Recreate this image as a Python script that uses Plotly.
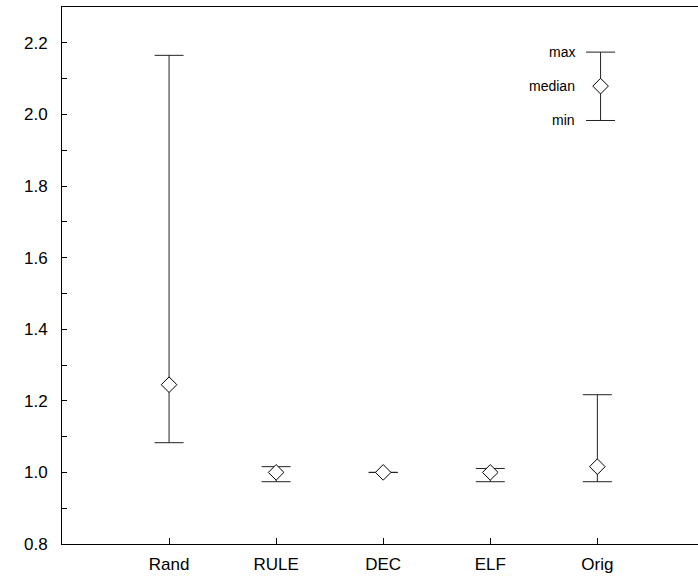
import plotly.graph_objects as go

# Summary statistics per method
methods = ["Rand", "RULE", "DEC", "ELF", "Orig"]
positions = [1, 2, 3, 4, 5]
maximum = [2.165, 1.016, 1.0, 1.011, 1.217]
median = [1.245, 1.0, 1.0, 1.0, 1.016]
minimum = [1.083, 0.974, 1.0, 0.974, 0.974]

# Key explaining the glyph
key_x = 5.03
key_values = [2.174, 2.079, 1.983]  # max, median, min
key_labels = ["max", "median", "min"]

y_ticks = [0.8, 1.0, 1.2, 1.4, 1.6, 1.8, 2.0, 2.2]

font_family = "Liberation Sans, Arial, sans-serif"

marker_style = dict(symbol="diamond", size=12, color="white",
                    line=dict(width=1, color="black"))


def whiskers(hi, mid, lo):
    return dict(
        type="data",
        symmetric=False,
        array=[h - m for h, m in zip(hi, mid)],
        arrayminus=[m - l for m, l in zip(mid, lo)],
        color="#222222",
        thickness=1,
        width=14.5,
    )


fig = go.Figure()

fig.add_trace(go.Scatter(
    x=positions,
    y=median,
    mode="markers",
    marker=marker_style,
    error_y=whiskers(maximum, median, minimum),
    showlegend=False,
    hoverinfo="skip",
))

fig.add_trace(go.Scatter(
    x=[key_x],
    y=[key_values[1]],
    mode="markers",
    marker=marker_style,
    error_y=whiskers([key_values[0]], [key_values[1]], [key_values[2]]),
    showlegend=False,
    hoverinfo="skip",
))

for label, val in zip(key_labels, key_values):
    fig.add_annotation(
        x=key_x, y=val, xref="x", yref="y",
        text=label, showarrow=False,
        xanchor="right", yanchor="middle",
        xshift=-24,
        font=dict(family=font_family, size=14, color="black"),
    )

fig.update_layout(
    width=698,
    height=580,
    margin=dict(l=62, r=0, t=7, b=36),
    paper_bgcolor="white",
    plot_bgcolor="white",
    font=dict(family=font_family, size=17, color="black"),
    xaxis=dict(
        range=[0, 5.94],
        tickmode="array",
        tickvals=positions,
        ticktext=methods,
        ticks="inside",
        ticklen=6,
        tickcolor="black",
        ticklabelstandoff=5,
        showline=True,
        linecolor="black",
        linewidth=1,
        mirror=True,
        showgrid=False,
        zeroline=False,
        tickfont=dict(size=17),
    ),
    yaxis=dict(
        range=[0.8, 2.3],
        tickmode="array",
        tickvals=y_ticks,
        tickformat=".1f",
        ticks="inside",
        ticklen=5,
        tickcolor="black",
        ticklabelstandoff=10,
        minor=dict(ticks="inside", dtick=0.1, ticklen=5, tickcolor="black"),
        showline=True,
        linecolor="black",
        linewidth=1,
        showgrid=False,
        zeroline=False,
        tickfont=dict(size=17),
    ),
)

fig.write_html("out.html", config={"staticPlot": True})
